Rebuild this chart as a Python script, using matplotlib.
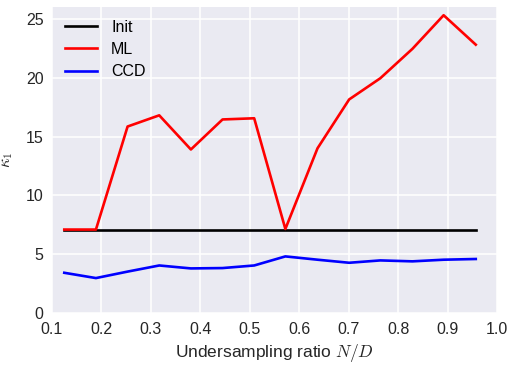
import numpy as np
import matplotlib
matplotlib.use("Agg")
import matplotlib.pyplot as plt

# sampling ratios N/D
ratio = [0.125, 0.189, 0.253, 0.317, 0.381, 0.445, 0.509,
         0.572, 0.637, 0.701, 0.764, 0.829, 0.892, 0.957]
# kappa_1 for each method
init = [7.1] * 14
ml = [7.1, 7.1, 15.85, 16.8, 13.9, 16.45, 16.55,
      7.15, 14.0, 18.15, 19.95, 22.45, 25.3, 22.8]
ccd = [3.43, 2.98, 3.53, 4.05, 3.8, 3.83, 4.05,
       4.82, 4.54, 4.28, 4.48, 4.4, 4.54, 4.6]

plt.rcParams['font.family'] = ['Liberation Sans', 'DejaVu Sans']
plt.rcParams['mathtext.fontset'] = 'cm'

fig = plt.figure(figsize=(5.14, 3.68), dpi=100)
ax = fig.add_axes([0.101, 0.149, 0.866, 0.832])
ax.set_facecolor('#EAEAF2')
for s in ax.spines.values():
    s.set_visible(False)
ax.grid(True, color='white', linewidth=1.1)
ax.set_axisbelow(True)

ax.plot(ratio, init, 'k', lw=1.9, label='Init')
ax.plot(ratio, ml, 'r', lw=1.9, label='ML')
ax.plot(ratio, ccd, 'b', lw=1.9, label='CCD')

ax.set_xlim(0.1, 1.0)
ax.set_ylim(0, 26)
ax.set_xticks(np.arange(0.1, 1.01, 0.1))
ax.set_yticks([0, 5, 10, 15, 20, 25])
ax.tick_params(length=0, labelsize=11.5, colors='#262626', pad=6)
ax.set_xlabel(r'Undersampling ratio $N/D$', fontsize=12.5, color='#262626', labelpad=4)
ax.set_ylabel(r'$\kappa_1$', fontsize=12, color='#262626', labelpad=8)
ax.legend(loc='upper left', frameon=False, fontsize=11.5, handlelength=2.0,
          handletextpad=0.9, borderaxespad=0.4, labelspacing=0.45)

fig.savefig('out.png', dpi=100)
